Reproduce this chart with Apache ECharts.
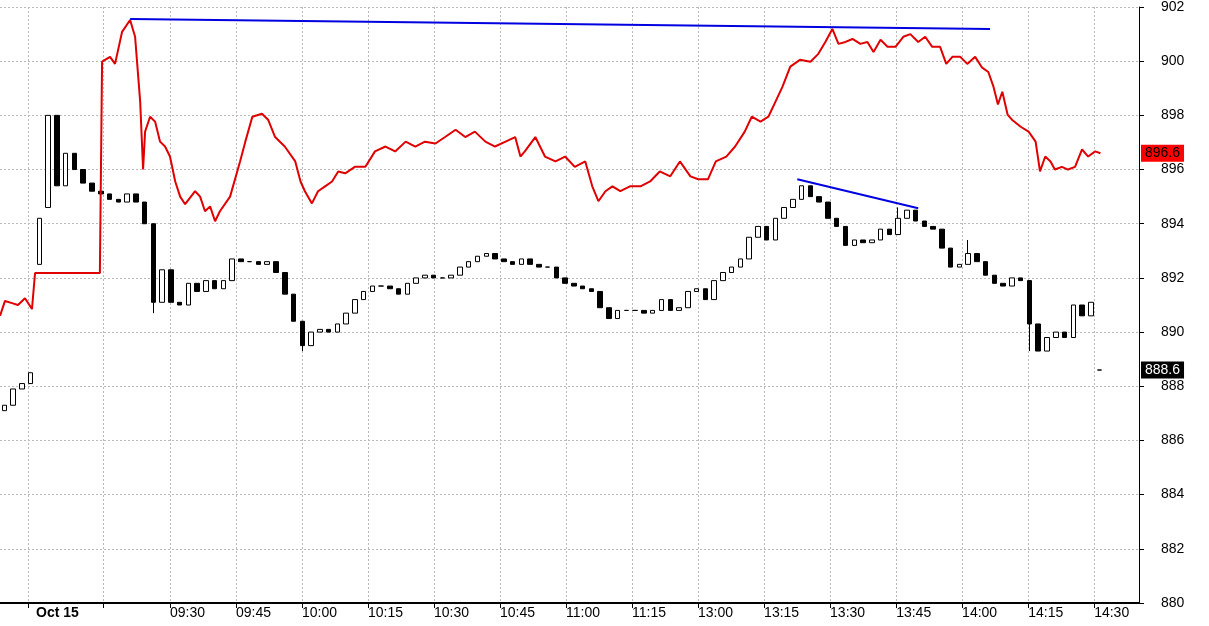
<!DOCTYPE html>
<html>
<head>
<meta charset="utf-8">
<script src="https://cdn.jsdelivr.net/npm/echarts@6/dist/echarts.min.js"></script>
<style>html,body{margin:0;padding:0;background:#fff}#chart{width:1209px;height:626px}</style>
</head>
<body>
<div id="chart"></div>
<script>
// candle closes, one per bar slot
const closes = [887.3,887.9,888.1,888.5,894.2,898.0,895.4,896.6,896.0,895.5,
  895.2,895.1,894.9,894.8,895.1,894.8,894.0,891.1,892.3,891.1,
  891.0,891.8,891.5,891.9,891.6,891.9,892.7,892.6,892.6,892.5,
  892.6,892.2,891.4,890.4,889.5,890.0,890.1,890.0,890.3,890.7,
  891.2,891.5,891.7,891.7,891.6,891.4,891.8,892.0,892.1,892.0,
  892.0,892.1,892.4,892.6,892.8,892.9,892.7,892.6,892.5,892.7,
  892.5,892.4,892.4,892.0,891.8,891.7,891.6,891.5,890.9,890.5,
  890.8,890.8,890.8,890.7,890.8,891.2,890.8,890.9,891.5,891.6,
  891.2,891.9,892.2,892.4,892.7,893.5,893.9,893.4,894.2,894.6,
  894.9,895.4,895.0,894.8,894.2,893.9,893.2,893.4,893.3,893.4,
  893.8,893.6,894.2,894.5,894.1,893.9,893.8,893.1,892.4,892.5,
  892.9,892.6,892.1,891.8,891.7,892.0,891.9,890.3,889.3,889.8,
  890.0,889.8,891.0,890.6,891.1,888.6];
const openOverrides = {0: 887.1, 4: 892.5, 5: 894.6, 125: 888.6};
const extraLows = {17: 890.7, 34: 889.3, 117: 889.3, 0: 887.1};
const extraHighs = {3: 888.5, 6: 898.0, 110: 893.4, 102: 894.6};
const slotCount = 130;

// red line: [bar position, price]
const redLine = [[-0.5,890.6],[0.07,891.15],[0.87,891.07],[1.55,891.0],[2.35,891.25],[3.15,890.85],[3.5,892.18],
  [10.9,892.18],[11.15,899.98],[12.06,900.16],[12.63,899.9],[13.43,901.08],[14.35,901.52],[14.92,900.9],
  [15.5,898.5],[15.83,896.0],[16.06,897.4],[16.63,897.95],[17.2,897.77],[17.77,897.03],[18.34,896.85],
  [18.9,896.48],[19.5,895.56],[20.06,895.0],[20.63,894.72],[21.77,895.2],[22.34,895.0],[22.9,894.46],
  [23.48,894.64],[24.05,894.09],[24.6,894.46],[25.76,895.0],[26.9,896.3],[27.5,897.03],[28.3,897.95],
  [29.4,898.06],[30.1,897.84],[30.9,897.2],[32.0,896.85],[33.2,896.3],[33.8,895.56],[34.3,895.2],
  [35.1,894.75],[35.8,895.2],[36.6,895.38],[37.4,895.56],[38.1,895.93],[38.9,895.86],[40.0,896.1],
  [41.2,896.1],[42.3,896.67],[43.5,896.85],[44.6,896.67],[45.8,897.03],[46.9,896.85],[48.0,897.03],
  [49.2,896.96],[50.3,897.2],[51.5,897.47],[52.6,897.2],[53.7,897.4],[54.9,897.03],[56.0,896.85],
  [57.2,897.03],[58.3,897.2],[58.9,896.48],[59.4,896.67],[60.6,897.2],[61.7,896.48],[62.9,896.3],
  [64.0,896.48],[65.1,896.1],[66.3,896.3],[67.1,895.38],[67.8,894.83],[68.6,895.2],[69.4,895.38],
  [70.3,895.2],[71.4,895.38],[72.6,895.38],[73.7,895.56],[74.8,895.93],[76.0,895.75],[77.1,896.3],
  [78.3,895.75],[79.2,895.64],[80.3,895.64],[81.2,896.3],[82.4,896.48],[83.4,896.85],[84.5,897.4],
  [85.3,897.95],[86.3,897.77],[87.2,897.95],[88.0,898.5],[88.8,899.05],[89.7,899.8],[90.8,900.05],
  [92.0,899.98],[92.9,900.27],[93.7,900.71],[94.5,901.19],[95.2,900.64],[96.0,900.71],[96.8,900.82],
  [97.7,900.64],[98.5,900.71],[99.2,900.34],[100.0,900.79],[100.8,900.53],[101.7,900.53],[102.6,900.9],
  [103.4,901.0],[104.3,900.71],[105.1,900.9],[105.9,900.53],[106.8,900.53],[107.5,899.9],[108.2,900.16],
  [109.1,900.16],[109.9,899.9],[110.8,900.16],[111.6,899.76],[112.3,899.6],[112.9,899.05],[113.4,898.4],
  [113.9,898.87],[114.5,898.03],[115.0,897.84],[116.0,897.58],[116.9,897.4],[117.7,897.03],[118.2,895.93],
  [118.8,896.48],[119.4,896.3],[119.9,896.0],[120.7,896.1],[121.4,896.0],[122.2,896.1],[123.0,896.74],
  [123.7,896.48],[124.5,896.67],[125.1,896.6]];

const trendTop = [[14.35,901.56],[112.5,901.19]];
const trendLow = [[90.5,895.64],[104.3,894.57]];

const tickPos = [2.7,11.3,18.9,26.43,33.97,41.5,49.04,56.57,64.1,71.64,79.17,86.71,94.24,101.78,109.31,116.85,124.38];
const tickLabels = ['Oct 15','','09:30','09:45','10:00','10:15','10:30','10:45','11:00','11:15','13:00','13:15','13:30','13:45','14:00','14:15','14:30'];

const candles = closes.map((c, i) => {
  const o = openOverrides[i] !== undefined ? openOverrides[i] : closes[i - 1];
  let lo = Math.min(o, c), hi = Math.max(o, c);
  if (extraLows[i] !== undefined) lo = Math.min(lo, extraLows[i]);
  if (extraHighs[i] !== undefined) hi = Math.max(hi, extraHighs[i]);
  return [o, c, lo, hi];
});
while (candles.length < slotCount) candles.push(['-', '-', '-', '-']);

const tagLabel = (txt, fg, bg) => ({
  show: true, position: 'end', distance: 2, formatter: txt, color: fg, backgroundColor: bg,
  fontFamily: 'Arial, Liberation Sans', fontSize: 14, padding: [2, 4, 1, 4]
});

const chart = echarts.init(document.getElementById('chart'));
chart.setOption({
  animation: false,
  grid: {left: 0, right: 70, top: 5, bottom: 23},
  xAxis: [
    {type: 'category', data: candles.map((_, i) => i), show: false, boundaryGap: true},
    {type: 'value', min: -0.5, max: slotCount - 0.5, position: 'bottom',
      axisLine: {show: true, onZero: false, lineStyle: {color: '#000', width: 2}},
      axisTick: {show: true, customValues: tickPos, length: 5, lineStyle: {color: '#000'}},
      axisLabel: {customValues: tickPos, align: 'left', margin: 3, fontFamily: 'Arial, Liberation Sans', fontSize: 14, color: '#000',
        formatter: v => {
          const k = tickPos.indexOf(v);
          const t = k >= 0 ? tickLabels[k] : '';
          return k === 0 ? '{b|' + t + '}' : t;
        },
        rich: {b: {fontWeight: 'bold', fontSize: 14, fontFamily: 'Arial, Liberation Sans', padding: [0, 0, 0, 8]}}},
      splitLine: {show: true, lineStyle: {color: '#bbb', type: [2, 2]}}}
  ],
  yAxis: {type: 'value', position: 'right', min: 880, max: 902, interval: 2,
    axisLine: {show: true, onZero: false, lineStyle: {color: '#000', width: 1}},
    axisTick: {show: true, length: 5, lineStyle: {color: '#000'}},
    axisLabel: {margin: 22, fontFamily: 'Arial, Liberation Sans', fontSize: 14, color: '#000'},
    splitLine: {show: true, lineStyle: {color: '#bbb', type: [2, 2]}}},
  series: [
    {type: 'candlestick', xAxisIndex: 0, data: candles, barWidth: 5,
      itemStyle: {color: '#fff', color0: '#000', borderColor: '#000', borderColor0: '#000', borderWidth: 1},
      markLine: {symbol: 'none', silent: true, lineStyle: {color: 'rgba(0,0,0,0)', width: 0},
        label: tagLabel('888.6', '#fff', '#000'), data: [{yAxis: 888.6}]}},
    {type: 'line', xAxisIndex: 1, data: redLine, symbol: 'none', lineStyle: {color: '#e00000', width: 2},
      markLine: {symbol: 'none', silent: true, lineStyle: {color: 'rgba(0,0,0,0)', width: 0},
        label: tagLabel('896.6', '#000', '#ff0000'), data: [{yAxis: 896.6}]}},
    {type: 'line', xAxisIndex: 1, data: trendTop, symbol: 'none', lineStyle: {color: '#0000e0', width: 2}},
    {type: 'line', xAxisIndex: 1, data: trendLow, symbol: 'none', lineStyle: {color: '#0000e0', width: 2}}
  ]
});
</script>
</body>
</html>
